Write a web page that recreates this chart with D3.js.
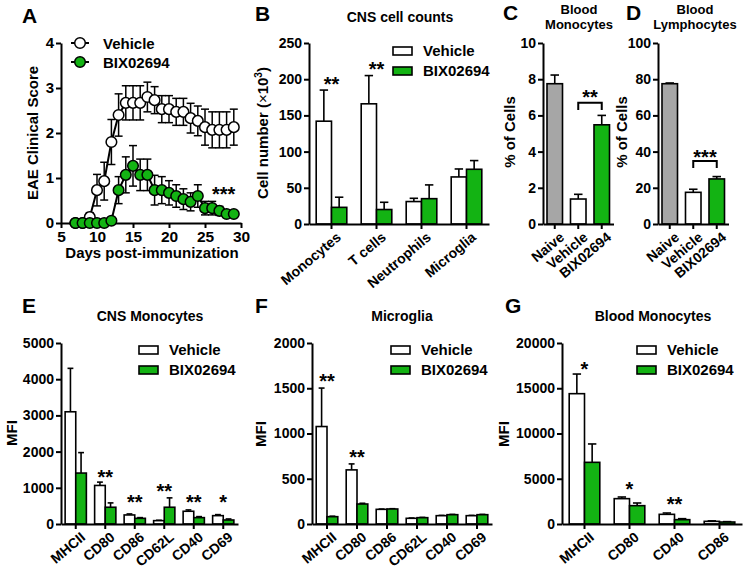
<!DOCTYPE html>
<html><head><meta charset="utf-8">
<script src="https://cdn.jsdelivr.net/npm/d3@7"></script>
<style>
body{margin:0;background:#fff}
text{font-family:"Liberation Sans",Arial,sans-serif;font-weight:bold;fill:#000}
</style>
</head><body><svg id="c" width="747" height="572"></svg>
<script>
// ---------- DATA ----------
const days = [7,8,9,10,11,12,13,14,15,16,17,18,19,20,21,22,23,24,25,26,27,28,29];
const vehicleScore    = [0,0,0.13,0.73,0.93,1.8,2.4,2.67,2.67,2.67,2.8,2.73,2.53,2.53,2.47,2.47,2.33,2.27,2.13,2.07,2.07,2.07,2.13];
const vehicleScoreErr = [0,0,0.1,0.35,0.42,0.5,0.47,0.38,0.38,0.38,0.33,0.3,0.3,0.3,0.3,0.3,0.33,0.33,0.4,0.4,0.4,0.4,0.4];
const bixScore        = [0,0,0,0,0,0.05,0.73,1.07,1.27,1.07,1.07,0.73,0.73,0.67,0.6,0.53,0.47,0.6,0.33,0.33,0.27,0.2,0.2];
const bixScoreErr     = [0,0,0,0,0,0.03,0.3,0.4,0.45,0.35,0.35,0.33,0.3,0.27,0.25,0.23,0.2,0.25,0.15,0.15,0.1,0.07,0.07];
const scoreTicks = [0,1,2,3,4];
const dayTicks = [5,10,15,20,25,30];

const cellCats = ["Monocytes","T cells","Neutrophils","Microglia"];
const cellVehicle = [142,166,31,65], cellVehicleErr = [43,39,4.5,11];
const cellBix = [23,20,35,75.6], cellBixErr = [14,10,19,12];
const cellStars = [["Monocytes","**",199],["T cells","**",220]];

const bloodCats = ["Naive","Vehicle","BIX02694"];
const monoPct = [7.75,1.38,5.48], monoPctErr = [0.48,0.26,0.52];
const lymphPct = [77.5,17.5,24.9], lymphPctErr = [0.4,1.7,1.3];

const cnsMonoCats = ["MHCII","CD80","CD86","CD62L","CD40","CD69"];
const cnsMonoVehicle = [3100,1065,250,93,352,231], cnsMonoVehicleErr = [1200,92,28,10,37,28];
const cnsMonoBix = [1407,463,157,463,176,111], cnsMonoBixErr = [565,120,19,259,28,28];
const cnsMonoStars = [["CD80","**",1409],["CD86","**",718],["CD62L","**",1022],["CD40","**",718],["CD69","*",718]];

const microCats = ["MHCII","CD80","CD86","CD62L","CD40","CD69"];
const microVehicle = [1077,598,162,63,92,92], microVehicleErr = [425,66,3,3,3,3];
const microBix = [81,221,166,70,103,103], microBixErr = [5,8,3,3,3,3];
const microStars = [["MHCII","**",1624],["CD80","**",785]];

const bloodMonoCats = ["MHCII","CD80","CD40","CD86"];
const bloodMonoVehicle = [14400,2800,1068,295], bloodMonoVehicleErr = [2170,183,147,50];
const bloodMonoBix = [6814,2026,479,221], bloodMonoBixErr = [2030,295,110,40];
const bloodMonoStars = [["MHCII","*",17570],["CD80","*",4310],["CD40","**",2650]];

const seriesNames = ["Vehicle","BIX02694"];

// ---------- STYLE ----------
const GREEN = "#13b313", GRAY = "#a6a6a6";
const svg = d3.select("#c");
svg.append("rect").attr("width",747).attr("height",572).attr("fill","#fff");
const fmt = d => String(d);

function styleAxis(g, fs){
  g.selectAll("path.domain").attr("stroke","#000").attr("stroke-width",2);
  g.selectAll(".tick line").attr("stroke","#000").attr("stroke-width",2);
  g.selectAll(".tick text").style("font-size",fs+"px").style("font-family","'Liberation Sans',Arial,sans-serif").style("font-weight","bold").attr("fill","#000");
}
function rotateLabels(xa){
  xa.selectAll(".tick text").attr("x",0).attr("y",0).attr("dy","0.72em")
    .attr("text-anchor","end").attr("transform","translate(4,7) rotate(-40)");
}
function letter(t,x,y){ svg.append("text").attr("x",x).attr("y",y).style("font-size","21px").text(t); }
function title(lines,cx,y,fs,lh){
  const t = svg.append("text").attr("x",cx).attr("y",y).attr("text-anchor","middle").style("font-size",fs+"px");
  lines.forEach((l,i)=>t.append("tspan").attr("x",cx).attr("dy",i?lh:0).text(l));
}
function ylabel(txt,x,cy,fs){
  return svg.append("text").attr("transform",`translate(${x},${cy}) rotate(-90)`).attr("text-anchor","middle").style("font-size",fs+"px").text(txt);
}
function stars(txt,cx,y){
  svg.append("text").attr("x",cx).attr("y",y+11).attr("text-anchor","middle").style("font-size","20px").text(txt);
}
function legendBoxes(x,y,fs){
  seriesNames.forEach((n,i)=>{
    svg.append("rect").attr("x",x).attr("y",y+i*20).attr("width",19).attr("height",8)
      .attr("fill",i?GREEN:"#fff").attr("stroke","#000").attr("stroke-width",1.6);
    svg.append("text").attr("x",x+30).attr("y",y+i*20+9).style("font-size",fs+"px").text(n);
  });
}
function errBar(g,cx,yTop,yVal,cap){
  g.append("line").attr("x1",cx).attr("x2",cx).attr("y1",yVal).attr("y2",yTop).attr("stroke","#000").attr("stroke-width",1.6);
  g.append("line").attr("x1",cx-cap/2).attr("x2",cx+cap/2).attr("y1",yTop).attr("y2",yTop).attr("stroke","#000").attr("stroke-width",1.6);
}

// ---------- PANEL A ----------
(function(){
  const x = d3.scaleLinear().domain([5,30]).range([61,241]);
  const y = d3.scaleLinear().domain([0,4]).range([223,43]);
  const g = svg.append("g");
  const ya = g.append("g").attr("transform","translate(61,0)").call(d3.axisLeft(y).tickValues(scoreTicks).tickFormat(fmt).tickSize(5).tickSizeOuter(0).tickPadding(2));
  styleAxis(ya,15);
  const xa = g.append("g").attr("transform","translate(0,223)").call(d3.axisBottom(x).tickValues(dayTicks).tickFormat(fmt).tickSize(5).tickSizeOuter(0).tickPadding(3));
  styleAxis(xa,15.5);
  const line = d3.line().x((d,i)=>x(days[i])).y(d=>y(d));
  function series(vals,errs,fill){
    const s = g.append("g");
    vals.forEach((v,i)=>{
      if(errs[i]>0){
        const cx=x(days[i]);
        [v+errs[i], Math.max(0,v-errs[i])].forEach(e=>{
          s.append("line").attr("x1",cx).attr("x2",cx).attr("y1",y(v)).attr("y2",y(e)).attr("stroke","#000").attr("stroke-width",1.5);
          s.append("line").attr("x1",cx-4).attr("x2",cx+4).attr("y1",y(e)).attr("y2",y(e)).attr("stroke","#000").attr("stroke-width",1.5);
        });
      }
    });
    s.append("path").datum(vals).attr("d",line).attr("fill","none").attr("stroke","#000").attr("stroke-width",2);
    s.selectAll("circle").data(vals).join("circle").attr("cx",(d,i)=>x(days[i])).attr("cy",d=>y(d)).attr("r",5.3)
      .attr("fill",fill).attr("stroke","#000").attr("stroke-width",1.5);
  }
  series(vehicleScore,vehicleScoreErr,"#fff");
  series(bixScore,bixScoreErr,GREEN);
  [["#fff",43,"Vehicle"],[GREEN,62,"BIX02694"]].forEach(([f,yy,n])=>{
    g.append("line").attr("x1",71).attr("x2",89).attr("y1",yy).attr("y2",yy).attr("stroke","#000").attr("stroke-width",2);
    g.append("circle").attr("cx",80).attr("cy",yy).attr("r",5.3).attr("fill",f).attr("stroke","#000").attr("stroke-width",1.5);
    g.append("text").attr("x",103).attr("y",yy+5.5).style("font-size","15px").text(n);
  });
  g.append("text").attr("x",x(27.6)).attr("y",y(0.74)+11).attr("text-anchor","middle").style("font-size","20px").text("***");
  ylabel("EAE Clinical Score",38,133,15);
  svg.append("text").attr("x",152).attr("y",258).attr("text-anchor","middle").style("font-size","15px").text("Days post-immunization");
  letter("A",22,23);
})();

// ---------- GROUPED BAR PANEL ----------
function groupedPanel(o){
  const x = d3.scaleBand().domain(o.cats).range([o.x0,o.x1]).padding(0);
  const y = d3.scaleLinear().domain([0,o.max]).range([o.y0,o.yTop]);
  const g = svg.append("g");
  const half = x.step()*o.frac;
  const vals = [o.veh,o.bix], errs=[o.vehErr,o.bixErr];
  o.cats.forEach((c,i)=>{
    const cx = x(c)+x.bandwidth()/2;
    const sub = d3.scaleBand().domain(seriesNames).range([cx-half,cx+half]).padding(0);
    seriesNames.forEach((s,k)=>{
      const v=vals[k][i], e=errs[k][i];
      const bx = sub(s), bw = sub.bandwidth();
      errBar(g,bx+bw/2,y(v+e),y(v),bw*0.55);
      g.append("rect").attr("x",bx).attr("y",y(v)).attr("width",bw).attr("height",o.y0-y(v))
        .attr("fill",k?GREEN:"#fff").attr("stroke","#000").attr("stroke-width",1.6);
    });
  });
  const ya = g.append("g").attr("transform",`translate(${o.x0},0)`).call(d3.axisLeft(y).tickValues(d3.range(0,o.max+1e-9,o.step)).tickFormat(fmt).tickSize(5).tickSizeOuter(0).tickPadding(2));
  styleAxis(ya,o.fs);
  const xa = g.append("g").attr("transform",`translate(0,${o.y0})`).call(d3.axisBottom(x).tickSize(5).tickSizeOuter(0));
  styleAxis(xa,14);
  rotateLabels(xa);
  (o.stars||[]).forEach(([c,t,v])=>stars(t,x(c)+x.bandwidth()/2,y(v)));
  legendBoxes(o.legX,o.legY,15);
  return {x,y};
}

function singlePanel(o){
  const x = d3.scaleBand().domain(bloodCats).range([o.x0,o.x1]).paddingInner(0.34).paddingOuter(0.17);
  const y = d3.scaleLinear().domain([0,o.max]).range([224,43]);
  const g = svg.append("g");
  const fills=[GRAY,"#fff",GREEN];
  bloodCats.forEach((c,i)=>{
    const v=o.vals[i], e=o.errs[i];
    errBar(g,x(c)+x.bandwidth()/2,y(v+e),y(v),x.bandwidth()*0.55);
    g.append("rect").attr("x",x(c)).attr("y",y(v)).attr("width",x.bandwidth()).attr("height",224-y(v))
      .attr("fill",fills[i]).attr("stroke","#000").attr("stroke-width",1.6);
  });
  const ya = g.append("g").attr("transform",`translate(${o.x0},0)`).call(d3.axisLeft(y).tickValues(d3.range(0,o.max+1e-9,o.step)).tickFormat(fmt).tickSize(5).tickSizeOuter(0).tickPadding(2));
  styleAxis(ya,14);
  const xa = g.append("g").attr("transform","translate(0,224)").call(d3.axisBottom(x).tickSize(5).tickSizeOuter(0));
  styleAxis(xa,14);
  rotateLabels(xa);
  const a = x("Vehicle")+x.bandwidth()/2, b = x("BIX02694")+x.bandwidth()/2;
  g.append("path").attr("d",`M${a},${y(o.brLow)}V${y(o.brHigh)}H${b}V${y(o.brLow)}`).attr("fill","none").attr("stroke","#000").attr("stroke-width",2);
  stars(o.star,(a+b)/2,y(o.starY));
}

// B
groupedPanel({cats:cellCats,veh:cellVehicle,vehErr:cellVehicleErr,bix:cellBix,bixErr:cellBixErr,
  x0:309,x1:489,y0:224,yTop:43,max:250,step:50,frac:0.34,fs:14,stars:cellStars,legX:393,legY:47});
title(["CNS cell counts"],400,22,14,0);
letter("B",255,21);
{
  const t = ylabel("",268,133,15);
  t.append("tspan").text("Cell number (");
  t.append("tspan").style("font-weight","normal").text("×");
  t.append("tspan").text("10");
  t.append("tspan").attr("dy",-6).style("font-size","10px").text("3");
  t.append("tspan").attr("dy",6).text(")");
}

// C
singlePanel({x0:543,x1:613.5,max:10,step:2,vals:monoPct,errs:monoPctErr,brLow:6.3,brHigh:6.7,star:"**",starY:7.24});
title(["Blood","Monocytes"],579,14,13,15);
letter("C",503,20);
ylabel("% of Cells",515,132,15);

// D
singlePanel({x0:658,x1:728.5,max:100,step:20,vals:lymphPct,errs:lymphPctErr,brLow:31,brHigh:34.8,star:"***",starY:39.2});
title(["Blood","Lymphocytes"],695,14,13,15);
letter("D",626,20);
ylabel("% of Cells",627,132,15);

// E
groupedPanel({cats:cnsMonoCats,veh:cnsMonoVehicle,vehErr:cnsMonoVehicleErr,bix:cnsMonoBix,bixErr:cnsMonoBixErr,
  x0:61,x1:238,y0:524,yTop:343,max:5000,step:1000,frac:0.36,fs:14,stars:cnsMonoStars,legX:139,legY:346});
title(["CNS Monocytes"],150,321,14,0);
letter("E",22,313);
ylabel("MFI",17,433,15);

// F
groupedPanel({cats:microCats,veh:microVehicle,vehErr:microVehicleErr,bix:microBix,bixErr:microBixErr,
  x0:312,x1:492,y0:524,yTop:343,max:2000,step:500,frac:0.36,fs:14,stars:microStars,legX:391,legY:346});
title(["Microglia"],402,321,14,0);
letter("F",255,313);
ylabel("MFI",266,434,15);

// G
groupedPanel({cats:bloodMonoCats,veh:bloodMonoVehicle,vehErr:bloodMonoVehicleErr,bix:bloodMonoBix,bixErr:bloodMonoBixErr,
  x0:562,x1:742,y0:524,yTop:343,max:20000,step:5000,frac:0.34,fs:14,stars:bloodMonoStars,legX:637,legY:346});
title(["Blood Monocytes"],653,321,14,0);
letter("G",505,313);
ylabel("MFI",509,434,15);
</script></body></html>
